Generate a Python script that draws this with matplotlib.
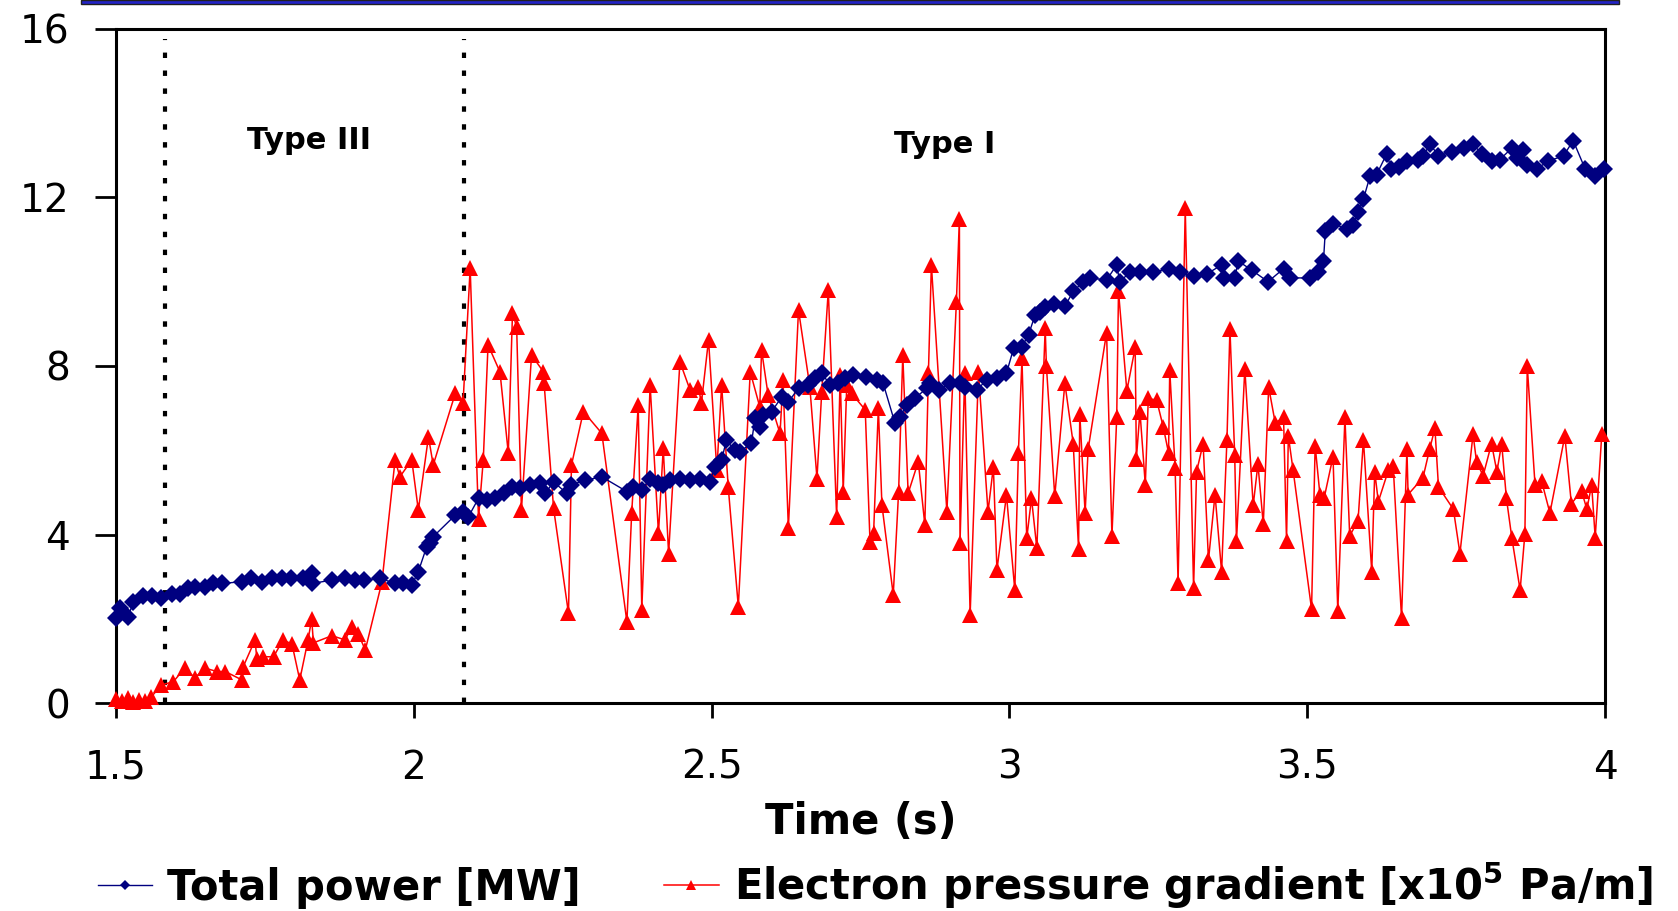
import matplotlib
matplotlib.use("Agg")
from matplotlib import pyplot as plt
from matplotlib.patches import Rectangle

# Total power [MW]
t_power = [1.500, 1.507, 1.521, 1.530, 1.546, 1.561, 1.577, 1.594, 1.608, 1.622, 1.633, 1.650, 1.664, 1.678,
           1.712, 1.728, 1.745, 1.762, 1.779, 1.795, 1.815, 1.829, 1.830, 1.863, 1.885, 1.902, 1.916, 1.944,
           1.969, 1.983, 1.997, 2.008, 2.022, 2.028, 2.033, 2.070, 2.083, 2.092, 2.109, 2.123, 2.137, 2.151,
           2.165, 2.179, 2.195, 2.212, 2.221, 2.235, 2.257, 2.265, 2.288, 2.316, 2.358, 2.369, 2.383, 2.397,
           2.411, 2.419, 2.430, 2.447, 2.464, 2.481, 2.497, 2.506, 2.517, 2.525, 2.539, 2.548, 2.567, 2.573,
           2.581, 2.587, 2.601, 2.618, 2.629, 2.646, 2.662, 2.674, 2.685, 2.699, 2.713, 2.724, 2.738, 2.760,
           2.777, 2.788, 2.808, 2.816, 2.828, 2.841, 2.861, 2.867, 2.881, 2.900, 2.917, 2.925, 2.945, 2.962,
           2.979, 2.995, 3.007, 3.021, 3.032, 3.043, 3.051, 3.060, 3.074, 3.093, 3.107, 3.124, 3.135, 3.163,
           3.180, 3.185, 3.202, 3.219, 3.241, 3.267, 3.286, 3.309, 3.331, 3.356, 3.360, 3.378, 3.384, 3.407,
           3.434, 3.460, 3.471, 3.504, 3.518, 3.527, 3.530, 3.543, 3.566, 3.577, 3.585, 3.594, 3.605, 3.616,
           3.633, 3.641, 3.653, 3.667, 3.685, 3.694, 3.706, 3.720, 3.742, 3.762, 3.778, 3.793, 3.809, 3.823,
           3.843, 3.851, 3.862, 3.868, 3.885, 3.904, 3.930, 3.946, 3.966, 3.983, 3.997]
power = [2.01, 2.25, 2.05, 2.41, 2.53, 2.53, 2.49, 2.60, 2.60, 2.72, 2.76, 2.76, 2.84, 2.84,
         2.88, 2.96, 2.88, 2.96, 2.96, 2.96, 2.96, 3.08, 2.84, 2.92, 2.96, 2.92, 2.92, 2.96,
         2.84, 2.84, 2.80, 3.12, 3.71, 3.80, 3.95, 4.46, 4.54, 4.42, 4.86, 4.82, 4.86, 4.98,
         5.14, 5.10, 5.18, 5.22, 4.98, 5.25, 4.98, 5.18, 5.29, 5.37, 5.02, 5.14, 5.06, 5.33,
         5.22, 5.18, 5.29, 5.33, 5.29, 5.33, 5.25, 5.61, 5.77, 6.24, 6.00, 5.97, 6.17, 6.76,
         6.56, 6.84, 6.92, 7.27, 7.15, 7.47, 7.55, 7.71, 7.83, 7.55, 7.59, 7.71, 7.79, 7.75,
         7.67, 7.59, 6.64, 6.80, 7.07, 7.23, 7.47, 7.59, 7.43, 7.59, 7.59, 7.51, 7.43, 7.67,
         7.71, 7.83, 8.42, 8.46, 8.74, 9.21, 9.29, 9.41, 9.46, 9.42, 9.77, 10.00, 10.09, 10.04,
         10.40, 10.00, 10.22, 10.22, 10.22, 10.31, 10.22, 10.13, 10.18, 10.40, 10.09, 10.09, 10.49, 10.27,
         10.00, 10.31, 10.09, 10.09, 10.22, 10.49, 11.20, 11.38, 11.25, 11.34, 11.65, 11.96, 12.50, 12.54,
         13.03, 12.68, 12.72, 12.86, 12.90, 12.99, 13.26, 12.99, 13.08, 13.17, 13.26, 13.03, 12.86, 12.90,
         13.17, 12.94, 13.12, 12.77, 12.68, 12.86, 12.99, 13.35, 12.68, 12.50, 12.68]

# Electron pressure gradient [x10^5 Pa/m]
t_grad = [1.500, 1.510, 1.520, 1.530, 1.540, 1.550, 1.560, 1.577, 1.597, 1.616, 1.633, 1.650, 1.670, 1.684,
          1.712, 1.714, 1.734, 1.737, 1.748, 1.765, 1.781, 1.796, 1.809, 1.823, 1.829, 1.832, 1.863, 1.885,
          1.896, 1.907, 1.919, 1.947, 1.969, 1.977, 1.997, 2.008, 2.025, 2.033, 2.070, 2.083, 2.095, 2.109,
          2.117, 2.125, 2.145, 2.159, 2.166, 2.173, 2.181, 2.198, 2.218, 2.219, 2.235, 2.260, 2.265, 2.285,
          2.316, 2.358, 2.366, 2.377, 2.383, 2.397, 2.411, 2.419, 2.428, 2.447, 2.464, 2.478, 2.483, 2.495,
          2.509, 2.517, 2.528, 2.545, 2.565, 2.581, 2.584, 2.595, 2.615, 2.620, 2.629, 2.646, 2.665, 2.677,
          2.685, 2.696, 2.710, 2.716, 2.721, 2.727, 2.735, 2.758, 2.766, 2.772, 2.780, 2.786, 2.805, 2.814,
          2.821, 2.830, 2.847, 2.858, 2.864, 2.869, 2.895, 2.911, 2.916, 2.917, 2.925, 2.934, 2.948, 2.964,
          2.973, 2.979, 2.995, 3.009, 3.015, 3.021, 3.029, 3.037, 3.046, 3.060, 3.062, 3.076, 3.093, 3.107,
          3.116, 3.118, 3.127, 3.132, 3.163, 3.172, 3.180, 3.183, 3.197, 3.211, 3.213, 3.219, 3.228, 3.233,
          3.247, 3.258, 3.267, 3.269, 3.278, 3.283, 3.295, 3.309, 3.314, 3.325, 3.334, 3.345, 3.356, 3.365,
          3.370, 3.378, 3.381, 3.395, 3.409, 3.417, 3.426, 3.435, 3.446, 3.460, 3.465, 3.468, 3.476, 3.507,
          3.513, 3.521, 3.528, 3.543, 3.551, 3.563, 3.571, 3.585, 3.594, 3.608, 3.613, 3.619, 3.636, 3.644,
          3.658, 3.667, 3.669, 3.694, 3.705, 3.714, 3.720, 3.745, 3.756, 3.778, 3.784, 3.795, 3.809, 3.818,
          3.826, 3.834, 3.843, 3.857, 3.865, 3.869, 3.882, 3.893, 3.907, 3.932, 3.943, 3.960, 3.969, 3.977,
          3.983, 3.994]
grad = [0.10, 0.05, 0.12, 0.02, 0.08, 0.05, 0.15, 0.43, 0.51, 0.83, 0.60, 0.83, 0.75, 0.75,
        0.55, 0.86, 1.50, 1.05, 1.10, 1.10, 1.50, 1.40, 0.55, 1.50, 2.00, 1.43, 1.60, 1.50,
        1.80, 1.65, 1.26, 2.88, 5.77, 5.37, 5.77, 4.58, 6.32, 5.65, 7.35, 7.11, 10.32, 4.38,
        5.77, 8.50, 7.86, 5.93, 9.25, 8.93, 4.58, 8.26, 7.86, 7.60, 4.62, 2.13, 5.65, 6.92,
        6.40, 1.93, 4.50, 7.07, 2.21, 7.55, 4.03, 6.05, 3.55, 8.10, 7.43, 7.51, 7.11, 8.62,
        5.53, 7.55, 5.14, 2.29, 7.86, 7.03, 8.38, 7.31, 6.40, 7.67, 4.15, 9.33, 7.51, 5.33,
        7.39, 9.80, 4.42, 7.79, 5.02, 7.55, 7.35, 6.96, 3.83, 4.03, 7.00, 4.70, 2.57, 5.02,
        8.26, 4.98, 5.73, 4.23, 7.83, 10.40, 4.54, 9.53, 11.50, 3.79, 7.83, 2.09, 7.86, 4.54,
        5.61, 3.16, 4.94, 2.68, 5.93, 8.18, 3.91, 4.86, 3.67, 8.89, 8.00, 4.91, 7.59, 6.16,
        3.66, 6.87, 4.51, 6.02, 8.79, 3.97, 6.78, 9.77, 7.41, 8.44, 5.80, 6.92, 5.18, 7.23,
        7.19, 6.56, 5.94, 7.90, 5.58, 2.86, 11.74, 2.72, 5.49, 6.16, 3.39, 4.95, 3.12, 6.25,
        8.88, 5.89, 3.84, 7.94, 4.69, 5.67, 4.24, 7.50, 6.65, 6.78, 3.84, 6.34, 5.53, 2.23,
        6.11, 4.95, 4.86, 5.85, 2.19, 6.78, 3.97, 4.33, 6.25, 3.12, 5.49, 4.78, 5.53, 5.62,
        2.01, 6.02, 4.95, 5.35, 6.02, 6.52, 5.13, 4.60, 3.55, 6.38, 5.71, 5.40, 6.16, 5.49,
        6.16, 4.86, 3.93, 2.68, 4.02, 7.99, 5.18, 5.27, 4.51, 6.34, 4.73, 5.04, 4.60, 5.18,
        3.93, 6.38]

# ELM regime boundaries
boundaries = [1.583, 2.084]
regions = ["Type III", "Type I"]
region_x = [1.824, 2.892]
region_y = [13.36, 13.25]

fig = plt.figure(figsize=(16.78, 9.11), dpi=100)
ax = fig.add_axes([0.0689, 0.2282, 0.8878, 0.7401])

# bar across the top of the slide
fig.add_artist(Rectangle((0.048, 0.9955), 0.917, 0.0045, transform=fig.transFigure,
                         facecolor="#2323c8", edgecolor="#202020", linewidth=1))

ax.plot(t_power, power, color="#000080", linewidth=1, marker="D", markersize=9,
        markeredgewidth=0, label="Total power [MW]", clip_on=False, zorder=4)
ax.plot(t_grad, grad, color="#ff0000", linewidth=1.1, marker="^", markersize=12,
        markeredgewidth=0, label=r"Electron pressure gradient [x10$^{\mathbf{5}}$ Pa/m]",
        clip_on=False, zorder=3)

for b in boundaries:
    ax.plot([b, b], [0, 15.75], color="black", linewidth=3, linestyle=(0, (1.3, 3.0)), zorder=2)

for txt, x, y in zip(regions, region_x, region_y):
    ax.text(x, y, txt, ha="center", va="center", fontsize=22, fontweight="bold")

ax.set_xlim(1.5, 4)
ax.set_ylim(0, 16)
ax.set_xticks([1.5, 2, 2.5, 3, 3.5, 4])
ax.set_xticklabels(["1.5", "2", "2.5", "3", "3.5", "4"])
ax.set_yticks([0, 4, 8, 12, 16])

for s in ax.spines.values():
    s.set_linewidth(2.2)
ax.tick_params(axis="x", direction="out", length=11, width=2, pad=22, labelsize=28)
ax.tick_params(axis="y", direction="out", length=15, width=2, pad=18, labelsize=28)

ax.set_xlabel("Time (s)", fontsize=30, fontweight="bold", labelpad=10)

plt.rcParams["mathtext.default"] = "bf"
fig.legend(loc="center", bbox_to_anchor=(0.5217, 0.028), ncol=2, frameon=False,
           prop={"size": 30, "weight": "bold"}, handlelength=1.3, handletextpad=0.36,
           columnspacing=2.0, markerscale=0.6)

plt.savefig("out.png", dpi=100)
